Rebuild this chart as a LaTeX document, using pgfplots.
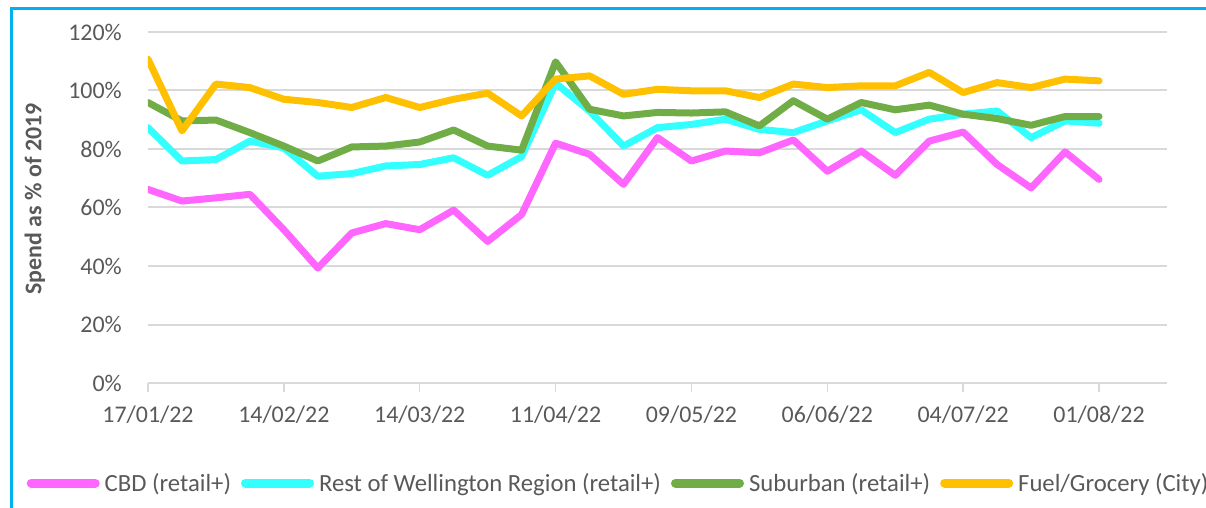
\documentclass[border=0pt]{standalone}
\usepackage{fontspec}
\setmainfont{Carlito}
\usepackage{pgfplots}
\pgfplotsset{compat=1.18}
\definecolor{cbd}{HTML}{FF66FF}
\definecolor{rest}{HTML}{33FFFF}
\definecolor{sub}{HTML}{70AD47}
\definecolor{fuel}{HTML}{FFC000}
\definecolor{txt}{HTML}{595959}
\definecolor{gridc}{HTML}{D9D9D9}
\definecolor{frame}{HTML}{00B0F0}
\begin{document}
\begin{tikzpicture}
\begin{axis}[
  scale only axis, width=1019bp, height=351bp,
  xmin=0, xmax=30, ymin=0, ymax=120,
  axis x line*=bottom, axis y line*=left,
  y axis line style={draw=none},
  x axis line style={gridc, line width=2bp},
  xtick={0,4,...,28},
  xticklabels={17/01/22,14/02/22,14/03/22,11/04/22,09/05/22,06/06/22,04/07/22,01/08/22},
  xtick style={gridc, line width=1.5bp},
  tick align=outside, major tick length=9bp,
  ytick={0,20,...,120},
  ytick style={draw=none},
  /pgf/number format/assume math mode=true,
  yticklabel={\pgfmathprintnumber{\tick}\%},
  ymajorgrids, grid style={gridc, line width=2bp},
  tick label style={font=\fontsize{24}{26}\selectfont, text=txt},
  yticklabel style={anchor=east, inner sep=0pt, xshift=-17bp},
  xticklabel style={anchor=north, inner sep=0pt, yshift=-14bp},
  ylabel={Spend as \% of 2019},
  ylabel style={font=\fontsize{24}{26}\selectfont\bfseries, text=txt, at={(axis description cs:-0.111,0.524)}, anchor=center},
  legend columns=4,
  legend style={at={(rel axis cs:-0.1192,-0.2849)}, anchor=west, draw=none, fill=none, inner sep=0pt,
    font=\fontsize{24.8}{27}\selectfont, text=txt,
    nodes={inner sep=1bp},
    /tikz/every odd column/.append style={column sep=4bp},
    /tikz/every even column/.append style={column sep=9bp}},
  legend image code/.code={\draw[line width=9bp, line cap=round] (0bp,0bp) -- (64bp,0bp);},
  every axis plot/.append style={line width=7bp, line join=round, line cap=round, mark=none},
]
\addplot[cbd] coordinates {(0,66.2)(1,62.2)(2,63.3)(3,64.5)(4,52.4)(5,39.3)(6,51.3)(7,54.5)(8,52.4)(9,59.1)(10,48.4)(11,57.6)(12,82.0)(13,78.2)(14,67.9)(15,83.9)(16,75.9)(17,79.3)(18,78.7)(19,83.1)(20,72.4)(21,79.3)(22,71.0)(23,82.7)(24,85.8)(25,74.7)(26,66.7)(27,79.0)(28,69.6)};
\addlegendentry{CBD (retail+)}
\addplot[rest] coordinates {(0,87.3)(1,75.9)(2,76.4)(3,82.7)(4,80.4)(5,70.7)(6,71.6)(7,74.2)(8,74.7)(9,77.0)(10,71.0)(11,77.4)(12,102.5)(13,93.0)(14,81.0)(15,87.3)(16,88.4)(17,90.2)(18,86.7)(19,85.6)(20,89.6)(21,93.4)(22,85.6)(23,90.2)(24,91.9)(25,93.0)(26,83.9)(27,89.6)(28,88.8)};
\addlegendentry{Rest of Wellington Region (retail+)}
\addplot[sub] coordinates {(0,95.9)(1,89.6)(2,89.9)(3,85.6)(4,81.0)(5,75.9)(6,80.7)(7,81.0)(8,82.4)(9,86.5)(10,81.0)(11,79.6)(12,109.8)(13,93.6)(14,91.3)(15,92.5)(16,92.3)(17,92.7)(18,87.9)(19,96.5)(20,90.2)(21,95.9)(22,93.4)(23,95.0)(24,91.9)(25,90.4)(26,88.1)(27,91.1)(28,91.1)};
\addlegendentry{Suburban (retail+)}
\addplot[fuel] coordinates {(0,110.7)(1,86.2)(2,102.2)(3,101.0)(4,97.0)(5,95.9)(6,94.2)(7,97.6)(8,94.2)(9,97.0)(10,99.1)(11,91.3)(12,103.9)(13,105.0)(14,98.7)(15,100.4)(16,99.9)(17,99.9)(18,97.6)(19,102.2)(20,101.0)(21,101.6)(22,101.6)(23,106.2)(24,99.3)(25,102.7)(26,101.0)(27,103.9)(28,103.3)};
\addlegendentry{Fuel/Grocery (City)}
\end{axis}
\draw[frame, line width=3bp] (-136.5bp,-140bp) -- (-136.5bp,374.5bp) -- (1080bp,374.5bp);
\pgfresetboundingbox
\useasboundingbox (-148bp,-125bp) rectangle (1058bp,383bp);
\end{tikzpicture}
\end{document}
